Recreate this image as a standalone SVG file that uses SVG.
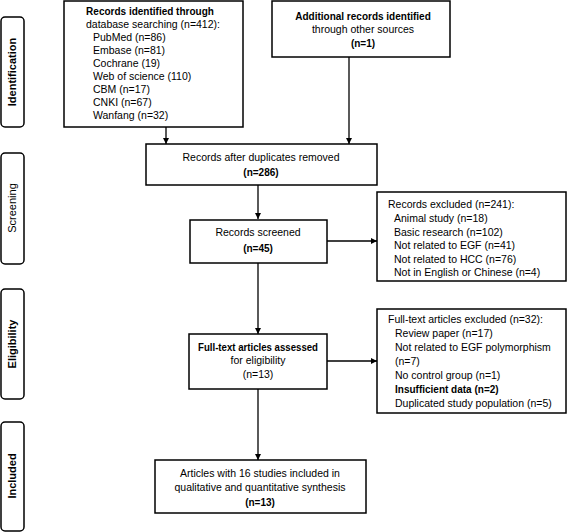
<svg xmlns="http://www.w3.org/2000/svg" width="568" height="532" viewBox="0 0 568 532">
<style>
text{font-family:"Liberation Sans",Arial,sans-serif;font-size:10.5px;fill:#000}
.b{font-weight:bold;font-size:10px}
.c{text-anchor:middle}
.box{fill:#fff;stroke:#000;stroke-width:1.5}
.side{fill:#fff;stroke:#000;stroke-width:1.5}
.sl{font-size:11px}
.ln{stroke:#000;stroke-width:1.3;fill:none;marker-end:url(#ah)}
</style>
<defs>
<marker id="ah" viewBox="0 0 10 10" refX="10" refY="5" markerWidth="7" markerHeight="6" markerUnits="userSpaceOnUse" orient="auto">
<path d="M0,0L10,5L0,10z" fill="#000"/>
</marker>
</defs>
<g id="phase-identification"><rect class="side" x="1" y="17" width="23" height="110" rx="4"/><text class="b c sl" transform="translate(16,72) rotate(-90)">Identification</text></g>
<g id="phase-screening"><rect class="side" x="1" y="153" width="23" height="111" rx="4"/><text class="c sl" transform="translate(16,208) rotate(-90)">Screening</text></g>
<g id="phase-eligibility"><rect class="side" x="1" y="289" width="23" height="110" rx="4"/><text class="b c sl" transform="translate(16,344) rotate(-90)">Eligibility</text></g>
<g id="phase-included"><rect class="side" x="1" y="422" width="23" height="109" rx="4"/><text class="b c sl" transform="translate(16,476) rotate(-90)">Included</text></g>
<g id="connectors">
<path class="ln" d="M166,127V144"/>
<path class="ln" d="M349,57V144"/>
<path class="ln" d="M258,185V219"/>
<path class="ln" d="M327,241H377"/>
<path class="ln" d="M258,263V334"/>
<path class="ln" d="M327,361H377"/>
<path class="ln" d="M258,389V460"/>
</g>
<g id="n-database"><rect class="box" x="64" y="1" width="179" height="126"/>
<text class="b c" x="150" y="15">Records identified through</text>
<text x="86" y="28">database searching (n=412):</text>
<text x="93" y="41">PubMed (n=86)</text>
<text x="93" y="54">Embase (n=81)</text>
<text x="93" y="67">Cochrane (19)</text>
<text x="93" y="80">Web of science (110)</text>
<text x="93" y="93">CBM (n=17)</text>
<text x="93" y="106">CNKI (n=67)</text>
<text x="93" y="119">Wanfang (n=32)</text></g>
<g id="n-other"><rect class="box" x="272" y="1" width="178" height="56"/>
<text class="b c" x="363" y="20">Additional records identified</text>
<text class="c" x="363" y="33">through other sources</text>
<text class="b c" x="363" y="47">(n=1)</text></g>
<g id="n-dup"><rect class="box" x="146" y="144" width="231" height="41"/>
<text class="c" x="261" y="161">Records after duplicates removed</text>
<text class="b c" x="261" y="176">(n=286)</text></g>
<g id="n-screened"><rect class="box" x="190" y="220" width="137" height="43"/>
<text class="c" x="258" y="236">Records screened</text>
<text class="b c" x="258" y="252">(n=45)</text></g>
<g id="n-excluded"><rect class="box" x="377" y="192" width="189" height="89"/>
<text x="388" y="208">Records excluded (n=241):</text>
<text x="394" y="222">Animal study (n=18)</text>
<text x="394" y="236">Basic research (n=102)</text>
<text x="394" y="249">Not related to EGF (n=41)</text>
<text x="394" y="263">Not related to HCC (n=76)</text>
<text x="394" y="276">Not in English or Chinese (n=4)</text></g>
<g id="n-fulltext"><rect class="box" x="189" y="334" width="138" height="55"/>
<text class="b c" x="258" y="351" textLength="120" lengthAdjust="spacingAndGlyphs">Full-text articles assessed</text>
<text class="c" x="258" y="364">for eligibility</text>
<text class="c" x="258" y="378">(n=13)</text></g>
<g id="n-ftexcluded"><rect class="box" x="377" y="309" width="189" height="104"/>
<text x="388" y="323">Full-text articles excluded (n=32):</text>
<text x="395" y="337">Review paper (n=17)</text>
<text x="395" y="351">Not related to EGF polymorphism</text>
<text x="395" y="365">(n=7)</text>
<text x="395" y="379">No control group (n=1)</text>
<text class="b" x="395" y="393">Insufficient data (n=2)</text>
<text x="395" y="407">Duplicated study population (n=5)</text></g>
<g id="n-included"><rect class="box" x="155" y="460" width="211" height="53"/>
<text class="c" x="260" y="477">Articles with 16 studies included in</text>
<text class="c" x="260" y="491">qualitative and quantitative synthesis</text>
<text class="b c" x="260" y="506">(n=13)</text></g>
</svg>
